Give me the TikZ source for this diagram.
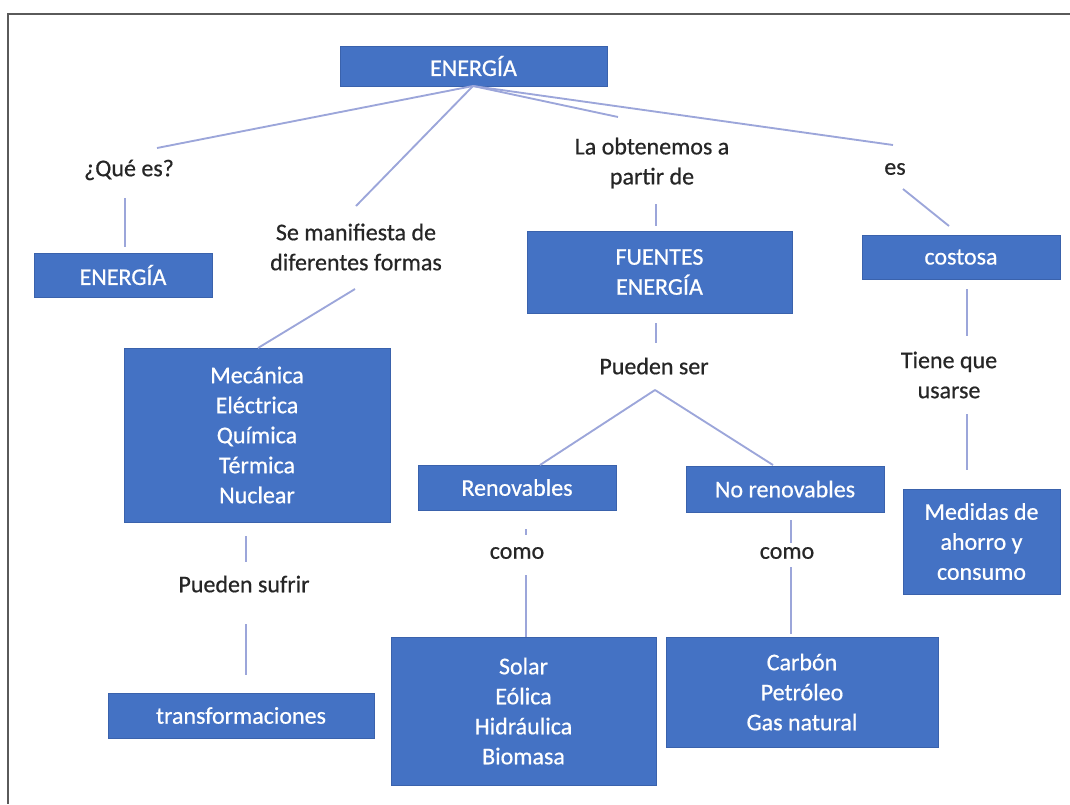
\documentclass[tikz,border=0pt]{standalone}
\usepackage{fontspec}
\setmainfont{Carlito}[BoldFont={Carlito}, BoldFeatures={FakeBold=0.6}]
\definecolor{azul}{HTML}{4472C4}
\definecolor{azulborde}{HTML}{3A62AC}
\definecolor{lila}{HTML}{9CA6DA}
\definecolor{marco}{HTML}{5A5A5A}
\tikzset{
  caja/.style 2 args={fill=azul, draw=azulborde, line width=0.5pt, text=white,
    align=center, inner sep=0pt, minimum width=#1*0.75pt, minimum height=#2*0.75pt},
  rotulo/.style={align=center, text=black!85, inner sep=1pt},
  enlace/.style={draw=lila, line width=1.4pt}
}
\begin{document}
\begin{tikzpicture}[x=0.75pt, y=-0.75pt, font=\fontsize{18}{22.5}\selectfont\bfseries]
    \useasboundingbox (0,0) rectangle (1070,804);
    \draw[marco, line width=1.5pt] (1070,14) -- (8,14) -- (8,804);
    % cajas
    \node[caja={267}{40}] (raiz) at (473.5,66) {ENERGÍA};
    \node[caja={178}{44}] (defi) at (123,275) {ENERGÍA};
    \node[caja={266}{174}] (formas) at (257,435) {Mecánica\\Eléctrica\\Química\\Térmica\\Nuclear};
    \node[caja={266}{45}] (transf) at (241,715.5) {transformaciones};
    \node[caja={265}{82}] (fuentes) at (659.5,272) {FUENTES\\ENERGÍA};
    \node[caja={198}{45}] (renov) at (517,487.5) {Renovables};
    \node[caja={198}{46}] (norenov) at (785,489) {No renovables};
    \node[caja={265}{148}] (listaren) at (523.5,711) {Solar\\Eólica\\Hidráulica\\Biomasa};
    \node[caja={272}{110}] (listanoren) at (802,692) {Carbón\\Petróleo\\Gas natural};
    \node[caja={198}{44}] (costosa) at (961,257) {costosa};
    \node[caja={157}{105}] (medidas) at (981.5,541.5) {Medidas de\\ahorro y\\consumo};
    % rotulos
    \node[rotulo] (que) at (129,170) {¿Qué es?};
    \node[rotulo] (manif) at (356,247) {Se manifiesta de\\diferentes formas};
    \node[rotulo] (obten) at (652,163) {La obtenemos a\\partir de};
    \node[rotulo] (es) at (895,169) {es};
    \node[rotulo] (pueden) at (654,366) {Pueden ser};
    \node[rotulo] (sufrir) at (244,584) {Pueden sufrir};
    \node[rotulo] (comoA) at (517,553) {como};
    \node[rotulo] (comoB) at (787,553) {como};
    \node[rotulo] (usarse) at (949,375) {Tiene que\\usarse};
    % puntos sueltos
    \coordinate (r0) at (473,86);
    \coordinate (q1) at (157,148);
    \coordinate (q2) at (125,198);
    \coordinate (q3) at (125,247);
    \coordinate (m1) at (356,206);
    \coordinate (m2) at (355,289);
    \coordinate (m3) at (258,348);
    \coordinate (s1) at (246,536);
    \coordinate (s2) at (246,562);
    \coordinate (s3) at (246,624);
    \coordinate (s4) at (246,675);
    \coordinate (o1) at (618,117);
    \coordinate (o2) at (656,204);
    \coordinate (o3) at (656,226);
    \coordinate (p1) at (656,323);
    \coordinate (p2) at (656,343);
    \coordinate (p3) at (655,390);
    \coordinate (p4) at (540,465);
    \coordinate (p5) at (773,465);
    \coordinate (ca1) at (526,529);
    \coordinate (ca2) at (526,535);
    \coordinate (ca3) at (526,575);
    \coordinate (ca4) at (526,637);
    \coordinate (cb1) at (791,520);
    \coordinate (cb2) at (791,543);
    \coordinate (cb3) at (791,567);
    \coordinate (cb4) at (791,634);
    \coordinate (e1) at (893,145);
    \coordinate (e2) at (903,189);
    \coordinate (e3) at (949,226);
    \coordinate (u1) at (967,289);
    \coordinate (u2) at (967,336);
    \coordinate (u3) at (967,414);
    \coordinate (u4) at (967,470);
    % enlaces
    \draw[enlace] (r0)--(q1);
    \draw[enlace] (r0)--(m1);
    \draw[enlace] (r0)--(o1);
    \draw[enlace] (r0)--(e1);
    \draw[enlace] (q2)--(q3);
    \draw[enlace] (m2)--(m3);
    \draw[enlace] (s1)--(s2);
    \draw[enlace] (s3)--(s4);
    \draw[enlace] (o2)--(o3);
    \draw[enlace] (p1)--(p2);
    \draw[enlace] (p3)--(p4);
    \draw[enlace] (p3)--(p5);
    \draw[enlace] (ca1)--(ca2);
    \draw[enlace] (ca3)--(ca4);
    \draw[enlace] (cb1)--(cb2);
    \draw[enlace] (cb3)--(cb4);
    \draw[enlace] (e2)--(e3);
    \draw[enlace] (u1)--(u2);
    \draw[enlace] (u3)--(u4);
\end{tikzpicture}
\end{document}
